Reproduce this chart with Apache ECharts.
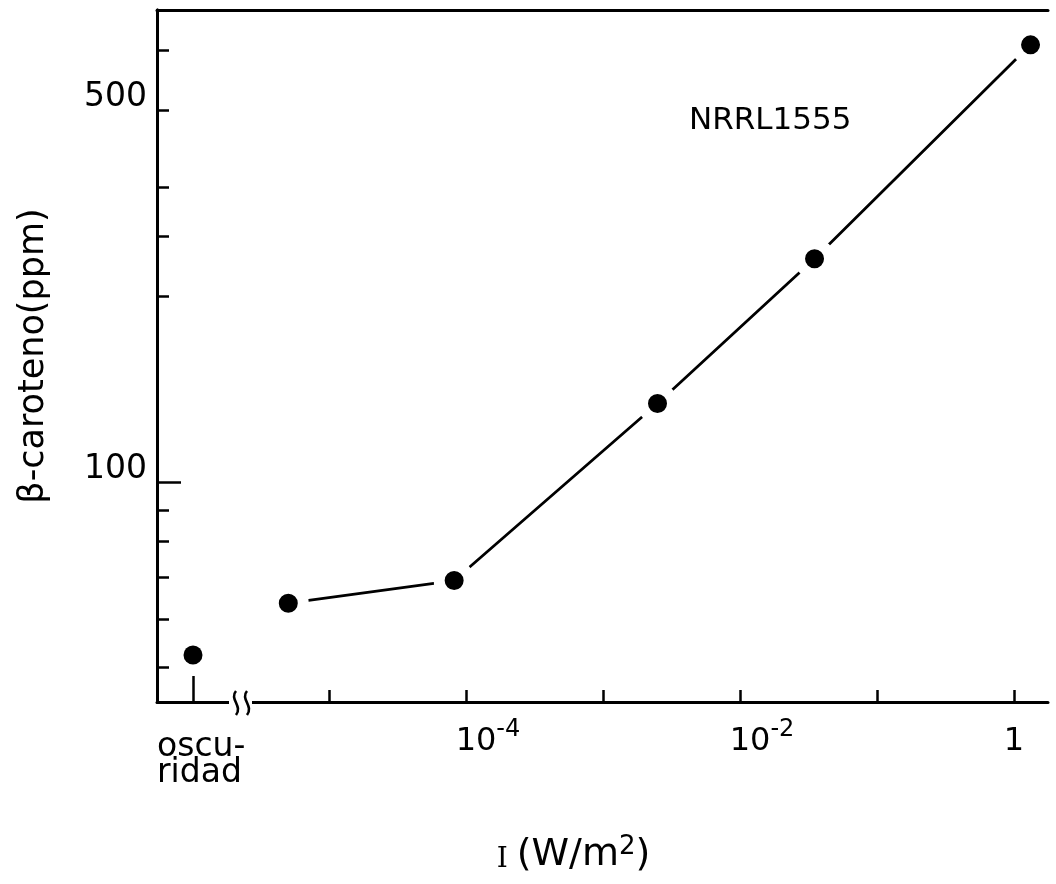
<!DOCTYPE html>
<html>
<head>
<meta charset="utf-8">
<script src="https://cdn.jsdelivr.net/npm/echarts@6/dist/echarts.min.js"></script>
<style>
html,body{margin:0;padding:0;background:#fff;}
#chart{width:1056px;height:884px;}
</style>
</head>
<body>
<div id="chart"></div>
<script>
// ---- data ----
const darkCategory = ['oscuridad'];
const darkValue = [52.4];
const irradiance = [5.05e-6, 8.2e-5, 2.5e-3, 3.5e-2, 1.32];
const caroteno = [63.6, 69.2, 134, 230, 511];
const xTickValues = [1e-5, 1e-4, 1e-3, 1e-2, 1e-1, 1];
const xLabelValues = [1e-4, 1e-2, 1];
const yMinorTicks = [50, 60, 70, 80, 90, 200, 250, 300, 400, 500];
const yMajorTicks = [100];
const yLabelValues = [100, 500];
const annotation = 'NRRL1555';

const FONT = 'DejaVu Sans';
const Y_MIN = 43.98, Y_MAX = 582;
const X_MIN = 5.56e-7, X_MAX = 1.77;
const LW = 3;

function squiggle(x) {
  return {
    type: 'bezierCurve', z: 101,
    shape: {x1: x, y1: 691, cpx1: x - 7, cpy1: 699, cpx2: x + 7, cpy2: 706, x2: x, y2: 715},
    style: {stroke: '#000', lineWidth: 2.6, fill: null}
  };
}

const chart = echarts.init(document.getElementById('chart'));
const option = {
  backgroundColor: '#fff',
  animation: false,
  title: {
    text: annotation, left: 684, top: 100,
    textStyle: {fontFamily: FONT, fontSize: 31, fontWeight: 'normal', color: '#000'}
  },
  grid: [
    {left: 157, top: 10, width: 72, height: 692},
    {left: 157, top: 10, right: 8, height: 692}
  ],
  xAxis: [
    {
      gridIndex: 0, type: 'category', data: darkCategory, boundaryGap: true,
      axisLine: {show: false},
      axisTick: {show: true, inside: true, length: 26, alignWithLabel: true, lineStyle: {color: '#000', width: 2.5}},
      axisLabel: {
        show: true, margin: 32, color: '#000', fontFamily: FONT, fontSize: 33,
        align: 'left', padding: [0, 0, 0, -36], lineHeight: 26,
        formatter: () => 'oscu-\nridad'
      },
      splitLine: {show: false}
    },
    {
      gridIndex: 1, type: 'log', min: X_MIN, max: X_MAX, logBase: 10,
      axisLine: {show: true, lineStyle: {color: '#000', width: LW}},
      axisTick: {show: true, inside: true, length: 12, customValues: xTickValues, lineStyle: {color: '#000', width: 2.5}},
      axisLabel: {
        show: true, margin: 16, color: '#000', customValues: xLabelValues,
        formatter: function (v) {
          if (Math.abs(v - 1) < 1e-9) return '{b|1}';
          const e = Math.round(Math.log10(v));
          return '{sp|}{b|10}{s|' + e + '}';
        },
        rich: {
          sp: {width: 44},
          b: {fontFamily: FONT, fontSize: 32, lineHeight: 40, verticalAlign: 'bottom', color: '#000'},
          s: {fontFamily: FONT, fontSize: 24, lineHeight: 22, verticalAlign: 'top', color: '#000'}
        }
      },
      splitLine: {show: false},
      name: '{i|I }{t|(W/m}{s|2}{t|)}',
      nameLocation: 'middle', nameGap: 132,
      nameTextStyle: {
        padding: [0, 58, 0, 0],
        rich: {
          i: {fontFamily: 'DejaVu Serif', fontSize: 28, color: '#000', verticalAlign: 'bottom', lineHeight: 36},
          t: {fontFamily: FONT, fontSize: 38, color: '#000', verticalAlign: 'bottom', lineHeight: 40},
          s: {fontFamily: FONT, fontSize: 26, color: '#000', verticalAlign: 'top', lineHeight: 26}
        }
      }
    },
    {
      gridIndex: 1, type: 'value', position: 'top', min: 0, max: 1,
      axisLine: {show: true, lineStyle: {color: '#000', width: LW}},
      axisTick: {show: false}, axisLabel: {show: false}, splitLine: {show: false}
    }
  ],
  yAxis: [
    {
      gridIndex: 0, type: 'log', min: Y_MIN, max: Y_MAX, position: 'left',
      axisLine: {show: true, lineStyle: {color: '#000', width: LW}},
      axisTick: {show: true, inside: true, length: 12, customValues: yMinorTicks, lineStyle: {color: '#000', width: 2.5}},
      axisLabel: {
        show: true, margin: 10, customValues: yLabelValues,
        formatter: v => (Math.abs(v - 500) < 1e-6 ? '{d|500}' : '{u|100}'),
        rich: {
          d: {fontFamily: FONT, fontSize: 33, color: '#000', padding: [94, 0, 0, 0]},
          u: {fontFamily: FONT, fontSize: 33, color: '#000', padding: [0, 0, 24, 0]}
        }
      },
      splitLine: {show: false},
      name: 'β-caroteno(ppm)', nameLocation: 'middle', nameRotate: 90, nameGap: 106,
      nameTextStyle: {fontFamily: FONT, fontSize: 35, color: '#000'}
    },
    {
      gridIndex: 1, type: 'log', min: Y_MIN, max: Y_MAX, position: 'right',
      axisLine: {show: true, lineStyle: {color: '#000', width: LW}},
      axisTick: {show: false}, axisLabel: {show: false}, splitLine: {show: false}
    },
    {
      gridIndex: 0, type: 'log', min: Y_MIN, max: Y_MAX, position: 'left',
      axisLine: {show: false},
      axisTick: {show: true, inside: true, length: 24, customValues: yMajorTicks, lineStyle: {color: '#000', width: 2.5}},
      axisLabel: {show: false}, splitLine: {show: false}
    }
  ],
  series: [
    {
      type: 'scatter', xAxisIndex: 0, yAxisIndex: 0,
      data: darkCategory.map((c, i) => [c, darkValue[i]]),
      symbol: 'circle', symbolSize: 19,
      itemStyle: {color: '#000', opacity: 1}, z: 5
    },
    {
      type: 'line', xAxisIndex: 1, yAxisIndex: 1,
      data: irradiance.map((x, i) => [x, caroteno[i]]),
      symbol: 'circle', symbolSize: 30, showSymbol: true,
      lineStyle: {color: '#000', width: 2.8},
      itemStyle: {color: '#000', borderColor: '#fff', borderWidth: 11, opacity: 1},
      z: 5
    }
  ],
  graphic: [
    {type: 'rect', shape: {x: 229, y: 694, width: 23, height: 16}, style: {fill: '#fff'}, z: 100},
    squiggle(236),
    squiggle(247)
  ]
};
chart.setOption(option);
</script>
</body>
</html>
